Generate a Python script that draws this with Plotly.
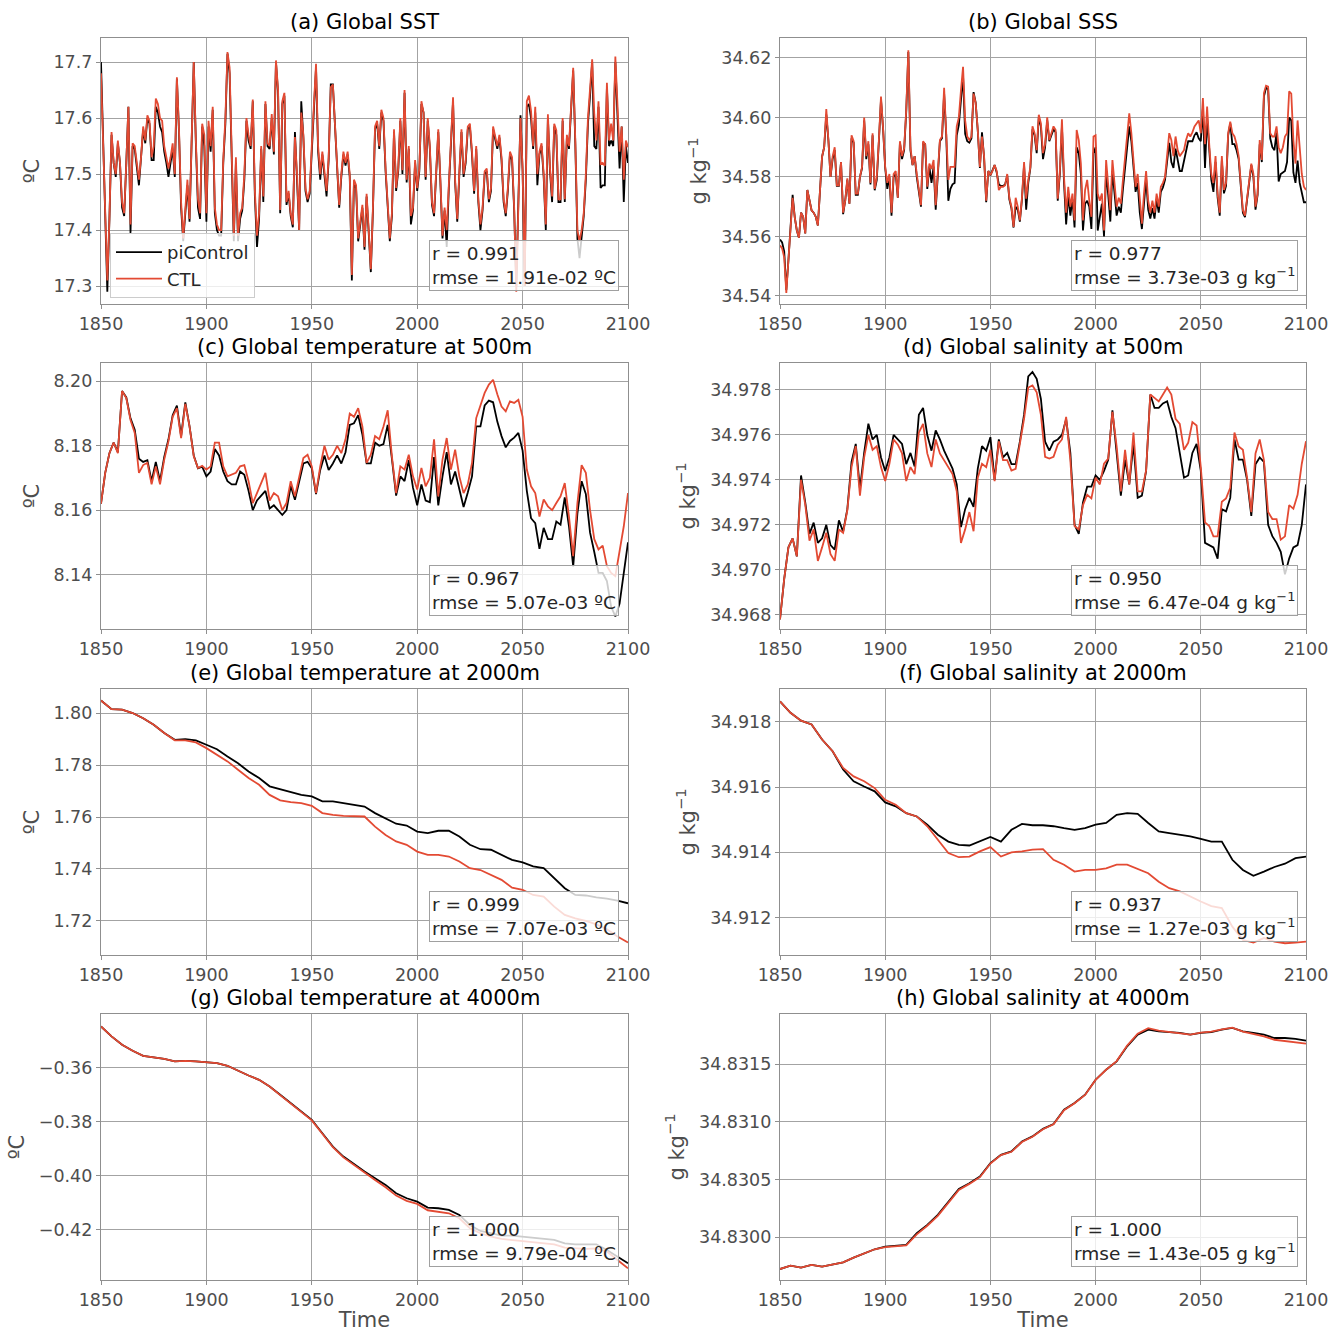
import plotly.graph_objects as go

# ---------------- data ----------------
years_annual = list(range(1850, 2101))
years_2yr = list(range(1850, 2101, 2))
years_5yr = list(range(1850, 2101, 5))

# (a) Global SST (degC)
sst_ctl = [
    17.68, 17.56, 17.45, 17.31, 17.42, 17.575, 17.52, 17.50, 17.56, 17.52,
    17.45, 17.43, 17.52, 17.62, 17.41, 17.555, 17.55, 17.52, 17.49, 17.53,
    17.585, 17.56, 17.605, 17.595, 17.53, 17.55, 17.635, 17.625, 17.60, 17.595,
    17.55, 17.53, 17.51, 17.53, 17.555, 17.50, 17.673, 17.58, 17.45, 17.385,
    17.44, 17.49, 17.42, 17.55, 17.70, 17.56, 17.455, 17.43, 17.59, 17.57,
    17.43, 17.595, 17.55, 17.62, 17.44, 17.41, 17.40, 17.40, 17.525, 17.60,
    17.718, 17.69, 17.55, 17.39, 17.53, 17.39, 17.43, 17.44, 17.50, 17.60,
    17.57, 17.55, 17.633, 17.47, 17.39, 17.43, 17.55, 17.46, 17.63, 17.555,
    17.55, 17.607, 17.54, 17.703, 17.65, 17.436, 17.63, 17.645, 17.45, 17.47,
    17.43, 17.41, 17.566, 17.50, 17.40, 17.61, 17.57, 17.475, 17.455, 17.47,
    17.55, 17.62, 17.697, 17.55, 17.50, 17.54, 17.51, 17.47, 17.53, 17.655,
    17.66, 17.585, 17.52, 17.445, 17.50, 17.54, 17.52, 17.54, 17.50, 17.32,
    17.49, 17.48, 17.385, 17.42, 17.445, 17.37, 17.465, 17.40, 17.33, 17.44,
    17.585, 17.595, 17.55, 17.615, 17.60, 17.51, 17.455, 17.385, 17.43, 17.58,
    17.475, 17.51, 17.60, 17.507, 17.65, 17.49, 17.55, 17.425, 17.44, 17.525,
    17.475, 17.51, 17.63, 17.61, 17.495, 17.60, 17.55, 17.45, 17.43, 17.52,
    17.58, 17.49, 17.39, 17.44, 17.40, 17.48, 17.56, 17.637, 17.49, 17.42,
    17.505, 17.58, 17.50, 17.525, 17.585, 17.59, 17.54, 17.47, 17.55, 17.455,
    17.41, 17.44, 17.505, 17.51, 17.455, 17.475, 17.585, 17.565, 17.55, 17.57,
    17.53, 17.455, 17.43, 17.475, 17.54, 17.53, 17.44, 17.29, 17.45, 17.60,
    17.51, 17.30, 17.63, 17.64, 17.613, 17.55, 17.62, 17.50, 17.54, 17.555,
    17.50, 17.41, 17.607, 17.51, 17.46, 17.59, 17.578, 17.455, 17.455, 17.60,
    17.455, 17.57, 17.55, 17.625, 17.69, 17.56, 17.40, 17.38, 17.40, 17.43,
    17.50, 17.60, 17.65, 17.705, 17.607, 17.56, 17.63, 17.518, 17.52, 17.515,
    17.663, 17.56, 17.59, 17.56, 17.71, 17.607, 17.54, 17.585, 17.49, 17.56,
    17.548,
]
sst_pic = [
    17.70, 17.56, 17.45, 17.29, 17.42, 17.57, 17.52, 17.495, 17.555, 17.52,
    17.44, 17.425, 17.52, 17.62, 17.395, 17.55, 17.545, 17.515, 17.48, 17.53,
    17.58, 17.555, 17.60, 17.59, 17.525, 17.525, 17.62, 17.61, 17.585, 17.575,
    17.54, 17.52, 17.495, 17.52, 17.545, 17.495, 17.67, 17.575, 17.44, 17.38,
    17.43, 17.48, 17.415, 17.545, 17.70, 17.555, 17.44, 17.42, 17.585, 17.55,
    17.415, 17.585, 17.54, 17.615, 17.43, 17.40, 17.39, 17.39, 17.52, 17.59,
    17.715, 17.68, 17.54, 17.38, 17.52, 17.38, 17.42, 17.435, 17.49, 17.595,
    17.56, 17.545, 17.63, 17.46, 17.37, 17.42, 17.545, 17.45, 17.625, 17.55,
    17.545, 17.60, 17.535, 17.70, 17.645, 17.43, 17.625, 17.64, 17.445, 17.465,
    17.425, 17.405, 17.575, 17.49, 17.40, 17.63, 17.565, 17.47, 17.45, 17.465,
    17.545, 17.615, 17.69, 17.54, 17.49, 17.535, 17.50, 17.46, 17.525, 17.66,
    17.66, 17.58, 17.515, 17.44, 17.495, 17.535, 17.515, 17.535, 17.495, 17.31,
    17.485, 17.475, 17.38, 17.415, 17.44, 17.365, 17.46, 17.395, 17.325, 17.435,
    17.58, 17.59, 17.545, 17.61, 17.595, 17.505, 17.45, 17.38, 17.425, 17.575,
    17.47, 17.505, 17.595, 17.50, 17.645, 17.485, 17.545, 17.41, 17.435, 17.52,
    17.47, 17.505, 17.625, 17.61, 17.49, 17.595, 17.545, 17.445, 17.425, 17.515,
    17.575, 17.485, 17.385, 17.435, 17.37, 17.475, 17.555, 17.63, 17.485, 17.415,
    17.50, 17.575, 17.495, 17.52, 17.58, 17.585, 17.535, 17.465, 17.545, 17.45,
    17.40, 17.435, 17.50, 17.505, 17.45, 17.47, 17.58, 17.56, 17.545, 17.565,
    17.525, 17.45, 17.425, 17.47, 17.535, 17.525, 17.435, 17.30, 17.445, 17.605,
    17.505, 17.30, 17.62, 17.625, 17.60, 17.545, 17.61, 17.48, 17.535, 17.55,
    17.495, 17.40, 17.60, 17.505, 17.45, 17.585, 17.57, 17.45, 17.45, 17.595,
    17.45, 17.565, 17.545, 17.62, 17.685, 17.555, 17.385, 17.35, 17.39, 17.425,
    17.49, 17.59, 17.64, 17.70, 17.55, 17.545, 17.62, 17.475, 17.48, 17.48,
    17.655, 17.55, 17.56, 17.55, 17.70, 17.60, 17.51, 17.585, 17.45, 17.55,
    17.52,
]

# (b) Global SSS (g/kg)
sss_ctl = [
    34.557, 34.556, 34.553, 34.541, 34.552, 34.562, 34.573, 34.5665, 34.562, 34.5596,
    34.568, 34.5666, 34.561, 34.5756, 34.572, 34.5688, 34.568, 34.5666, 34.5637, 34.5767,
    34.5868, 34.590, 34.6028, 34.5924, 34.580, 34.5868, 34.590, 34.5772, 34.5772, 34.585,
    34.568, 34.572, 34.5795, 34.571, 34.594, 34.592, 34.5744, 34.5744, 34.580, 34.5834,
    34.600, 34.587, 34.592, 34.578, 34.5947, 34.576, 34.580, 34.5924, 34.607, 34.5964,
    34.5834, 34.578, 34.581, 34.568, 34.581, 34.582, 34.573, 34.592, 34.587, 34.5896,
    34.6026, 34.6226, 34.590, 34.584, 34.587, 34.581, 34.5756, 34.5705, 34.592, 34.591,
    34.5767, 34.5845, 34.5827, 34.5857, 34.5705, 34.5834, 34.5924, 34.5936, 34.610, 34.5947,
    34.579, 34.5834, 34.5834, 34.5834, 34.597, 34.600, 34.609, 34.617, 34.599, 34.5936,
    34.5924, 34.5936, 34.608, 34.6048, 34.5958, 34.5834, 34.5936, 34.587, 34.572, 34.582,
    34.5806, 34.582, 34.584, 34.582, 34.5756, 34.5767, 34.5767, 34.5772, 34.581, 34.573,
    34.570, 34.5632, 34.573, 34.570, 34.5654, 34.573, 34.585, 34.5727, 34.579, 34.5834,
    34.597, 34.5947, 34.589, 34.6009, 34.598, 34.588, 34.591, 34.600, 34.5924, 34.5947,
    34.597, 34.5958, 34.5727, 34.582, 34.5994, 34.580, 34.568, 34.5767, 34.570, 34.5744,
    34.5654, 34.5958, 34.5924, 34.5845, 34.5654, 34.5756, 34.579, 34.572, 34.5666, 34.5936,
    34.594, 34.5744, 34.572, 34.5744, 34.562, 34.5857, 34.5767, 34.5688, 34.5857, 34.5767,
    34.570, 34.573, 34.571, 34.579, 34.5857, 34.5947, 34.6014, 34.5947, 34.5857, 34.5767,
    34.581, 34.571, 34.5643, 34.5744, 34.582, 34.572, 34.568, 34.572, 34.568, 34.5744,
    34.570, 34.5767, 34.578, 34.580, 34.587, 34.5947, 34.5924, 34.587, 34.5936, 34.589,
    34.587, 34.588, 34.589, 34.5924, 34.5947, 34.5936, 34.595, 34.597, 34.598, 34.599,
    34.5947, 34.6065, 34.591, 34.6037, 34.591, 34.581, 34.578, 34.587, 34.5744, 34.568,
    34.587, 34.5756, 34.578, 34.5947, 34.5986, 34.5947, 34.5936, 34.591, 34.587, 34.5767,
    34.5688, 34.567, 34.573, 34.579, 34.5845, 34.581, 34.570, 34.5744, 34.5924, 34.5857,
    34.6082, 34.6107, 34.6104, 34.5947, 34.5936, 34.5936, 34.597, 34.590, 34.588, 34.590,
    34.5936, 34.5947, 34.6088, 34.608, 34.5924, 34.5845, 34.599, 34.590, 34.581, 34.5767,
    34.5756,
]
sss_pic = [
    34.559, 34.558, 34.555, 34.542, 34.552, 34.563, 34.574, 34.5665, 34.562, 34.5596,
    34.568, 34.5666, 34.561, 34.5756, 34.572, 34.5688, 34.568, 34.5666, 34.5637, 34.5767,
    34.5868, 34.590, 34.601, 34.5924, 34.580, 34.586, 34.589, 34.577, 34.577, 34.585,
    34.5675, 34.572, 34.579, 34.571, 34.593, 34.5915, 34.574, 34.574, 34.580, 34.583,
    34.599, 34.586, 34.591, 34.5775, 34.594, 34.5755, 34.579, 34.592, 34.606, 34.596,
    34.583, 34.576, 34.580, 34.567, 34.580, 34.581, 34.573, 34.5915, 34.586, 34.589,
    34.602, 34.622, 34.589, 34.584, 34.587, 34.580, 34.575, 34.570, 34.5915, 34.591,
    34.576, 34.5835, 34.578, 34.5835, 34.569, 34.583, 34.592, 34.593, 34.608, 34.594,
    34.572, 34.576, 34.5775, 34.578, 34.594, 34.5975, 34.606, 34.614, 34.5945, 34.592,
    34.5915, 34.593, 34.6085, 34.605, 34.5955, 34.583, 34.595, 34.5865, 34.5715, 34.582,
    34.5805, 34.582, 34.584, 34.5815, 34.5775, 34.577, 34.577, 34.5775, 34.5805, 34.5725,
    34.5695, 34.563, 34.570, 34.569, 34.565, 34.5725, 34.584, 34.569, 34.578, 34.583,
    34.596, 34.594, 34.588, 34.600, 34.597, 34.586, 34.590, 34.599, 34.592, 34.594,
    34.596, 34.595, 34.572, 34.581, 34.597, 34.578, 34.564, 34.574, 34.567, 34.5725,
    34.563, 34.590, 34.588, 34.581, 34.562, 34.571, 34.572, 34.570, 34.5625, 34.588,
    34.590, 34.562, 34.567, 34.571, 34.560, 34.582, 34.574, 34.565, 34.582, 34.573,
    34.567, 34.570, 34.568, 34.576, 34.583, 34.592, 34.597, 34.592, 34.583, 34.575,
    34.578, 34.568, 34.5625, 34.571, 34.5795, 34.569, 34.566, 34.5695, 34.566, 34.5725,
    34.568, 34.575, 34.5765, 34.579, 34.585, 34.5915, 34.585, 34.583, 34.5895, 34.585,
    34.582, 34.582, 34.585, 34.589, 34.592, 34.592, 34.592, 34.594, 34.595, 34.593,
    34.592, 34.603, 34.583, 34.600, 34.589, 34.579, 34.575, 34.585, 34.573, 34.567,
    34.5855, 34.5745, 34.577, 34.594, 34.598, 34.591, 34.591, 34.589, 34.586, 34.576,
    34.568, 34.5665, 34.5725, 34.578, 34.584, 34.580, 34.569, 34.574, 34.591, 34.585,
    34.607, 34.610, 34.6095, 34.593, 34.590, 34.589, 34.595, 34.5785, 34.581, 34.5815,
    34.582, 34.585, 34.600, 34.599, 34.5815, 34.578, 34.5855, 34.578, 34.575, 34.5715,
    34.5715,
]

# (c) Global temperature at 500m (degC), every 2 years
t500_ctl = [
    8.162, 8.1716, 8.1777, 8.181, 8.1777, 8.197, 8.1948, 8.188, 8.184, 8.1716,
    8.174, 8.1747, 8.168, 8.1736, 8.168, 8.1757, 8.1814, 8.189, 8.1917, 8.1824,
    8.193, 8.186, 8.1767, 8.1731, 8.1738, 8.1726, 8.1736, 8.181, 8.181, 8.1736,
    8.1705, 8.171, 8.1716, 8.1736, 8.174, 8.169, 8.1622, 8.1653, 8.1684, 8.1716,
    8.163, 8.1653, 8.1643, 8.160, 8.1622, 8.169, 8.1643, 8.1705, 8.1762, 8.1772,
    8.1736, 8.1653, 8.1736, 8.180, 8.1757, 8.1772, 8.180, 8.1777, 8.182, 8.190,
    8.189, 8.1917, 8.186, 8.1747, 8.1772, 8.183, 8.182, 8.186, 8.191, 8.1767,
    8.1653, 8.1736, 8.1726, 8.1772, 8.1705, 8.1664, 8.1731, 8.1674, 8.170, 8.182,
    8.1643, 8.1757, 8.1824, 8.1726, 8.1788, 8.1705, 8.1653, 8.168, 8.1747, 8.1886,
    8.1922, 8.1964, 8.199, 8.2005, 8.196, 8.1922, 8.1907, 8.1938, 8.1933, 8.1943,
    8.189, 8.1726, 8.1674, 8.1653, 8.158, 8.1633, 8.1612, 8.160, 8.1622, 8.1643,
    8.1684, 8.158, 8.1457, 8.1622, 8.174, 8.1716, 8.160, 8.151, 8.1478, 8.149,
    8.1426, 8.1405, 8.1395, 8.1478, 8.155, 8.1653,
]
t500_pic = [
    8.162, 8.1716, 8.1777, 8.181, 8.178, 8.197, 8.195, 8.1885, 8.185, 8.176,
    8.175, 8.1755, 8.169, 8.175, 8.169, 8.1765, 8.182, 8.1895, 8.1925, 8.183,
    8.1935, 8.186, 8.177, 8.173, 8.1735, 8.1705, 8.172, 8.179, 8.177, 8.172,
    8.169, 8.168, 8.168, 8.172, 8.171, 8.166, 8.160, 8.163, 8.1645, 8.166,
    8.1605, 8.1615, 8.160, 8.1585, 8.160, 8.1675, 8.1632, 8.169, 8.1745, 8.175,
    8.173, 8.165, 8.1725, 8.177, 8.1725, 8.1745, 8.177, 8.1745, 8.178, 8.1865,
    8.187, 8.1895, 8.1835, 8.1745, 8.1745, 8.181, 8.180, 8.1805, 8.1865, 8.176,
    8.1645, 8.1705, 8.169, 8.1755, 8.167, 8.1615, 8.168, 8.163, 8.1625, 8.1765,
    8.1615, 8.1705, 8.178, 8.168, 8.172, 8.1665, 8.161, 8.1655, 8.1705, 8.186,
    8.186, 8.1925, 8.194, 8.1935, 8.1875, 8.183, 8.1795, 8.1815, 8.1825, 8.184,
    8.1785, 8.166, 8.1575, 8.156, 8.148, 8.1545, 8.151, 8.151, 8.1565, 8.1555,
    8.164, 8.155, 8.1425, 8.159, 8.169, 8.165, 8.153, 8.147, 8.1405, 8.1405,
    8.138, 8.130, 8.127, 8.131, 8.140, 8.150,
]

# (d) Global salinity at 500m (g/kg), every 2 years
s500_ctl = [
    34.9678, 34.9696, 34.9710, 34.9714, 34.9706, 34.9740, 34.9729, 34.9713, 34.9718, 34.9704,
    34.9710, 34.97165, 34.9707, 34.9704, 34.9718, 34.97165, 34.97265, 34.97457, 34.9755, 34.9733,
    34.9750, 34.9760, 34.97534, 34.9755, 34.97457, 34.97395, 34.97472, 34.9758, 34.97557, 34.97518,
    34.97395, 34.97457, 34.97426, 34.97611, 34.97649, 34.97518, 34.97457, 34.9758, 34.97518, 34.97488,
    34.97457, 34.97426, 34.97349, 34.9712, 34.9718, 34.97257, 34.97172, 34.9741, 34.97472, 34.97457,
    34.97534, 34.97395, 34.97572, 34.97488, 34.97488, 34.97442, 34.97449, 34.97565, 34.97672, 34.97811,
    34.9782, 34.9779, 34.9769, 34.97503, 34.97495, 34.97503, 34.97557, 34.9758, 34.9768, 34.97488,
    34.97195, 34.9718, 34.97288, 34.97334, 34.97318, 34.9741, 34.9738, 34.97472, 34.97495, 34.97703,
    34.97549, 34.97349, 34.97534, 34.9738, 34.97611, 34.97349, 34.97349, 34.97442, 34.9778, 34.97765,
    34.97749, 34.9778, 34.97811, 34.9778, 34.97672, 34.97649, 34.97534, 34.97565, 34.97657, 34.97642,
    34.97457, 34.97211, 34.97195, 34.97149, 34.97149, 34.97303, 34.97318, 34.97365, 34.97611, 34.97549,
    34.97534, 34.9741, 34.97257, 34.97518, 34.9758, 34.97488, 34.97257, 34.97226, 34.97226, 34.97134,
    34.97149, 34.97288, 34.97272, 34.97334, 34.97472, 34.97572,
]
s500_pic = [
    34.9678, 34.9696, 34.9710, 34.9714, 34.9706, 34.9742, 34.9730, 34.9716, 34.9721, 34.9712,
    34.9714, 34.9720, 34.9711, 34.9709, 34.9722, 34.9717, 34.9727, 34.9748, 34.9756, 34.9736,
    34.9752, 34.9765, 34.9758, 34.9760, 34.9750, 34.9744, 34.9750, 34.9760, 34.9758, 34.9756,
    34.9747, 34.9752, 34.9746, 34.9769, 34.9772, 34.9760, 34.9753, 34.9762, 34.9758, 34.9753,
    34.9749, 34.9745, 34.9738, 34.9719, 34.9727, 34.9732, 34.9728, 34.9745, 34.9755, 34.9753,
    34.9759, 34.9740, 34.9758, 34.9750, 34.9752, 34.9747, 34.9747, 34.9757, 34.9769, 34.9786,
    34.9788, 34.9785, 34.9776, 34.9757, 34.9753, 34.9757, 34.9758, 34.9760, 34.9767, 34.9752,
    34.9720, 34.9716, 34.9730, 34.9737, 34.9737, 34.9742, 34.9740, 34.9744, 34.9749, 34.9771,
    34.9752, 34.9733, 34.9749, 34.9738, 34.9756, 34.9732, 34.9733, 34.9744, 34.9778, 34.9772,
    34.9772, 34.9774, 34.9775, 34.9768, 34.9763, 34.9752, 34.9741, 34.9742, 34.9752, 34.9756,
    34.9744, 34.9712, 34.9711, 34.9710, 34.9705, 34.9727, 34.9726, 34.9732, 34.9758, 34.9749,
    34.9749, 34.9740, 34.9724, 34.9747, 34.9750, 34.9748, 34.9720, 34.9715, 34.9712, 34.9708,
    34.9698, 34.9705, 34.9710, 34.9711, 34.9720, 34.9738,
]

# (e) Global temperature at 2000m (degC), every 5 years
t2000_pic = [
    1.8048, 1.8015, 1.8013, 1.800, 1.798, 1.7955, 1.7923, 1.7897, 1.7900, 1.7895,
    1.7878, 1.7861, 1.7833, 1.7807, 1.7775, 1.775, 1.7718, 1.7707, 1.7694, 1.7685,
    1.7679, 1.766, 1.766, 1.7653, 1.7647, 1.764, 1.7615, 1.7596, 1.7574, 1.7567,
    1.7544, 1.7538, 1.7547, 1.7547, 1.7525, 1.7493, 1.7476, 1.7474, 1.7454, 1.7435,
    1.7425, 1.741, 1.7403, 1.7364, 1.7326, 1.730, 1.7298, 1.7291, 1.7286, 1.7278, 1.7268,
]
t2000_ctl = [
    1.8048, 1.8015, 1.8013, 1.800, 1.798, 1.7955, 1.7923, 1.7895, 1.7895, 1.7887,
    1.7865, 1.784, 1.7814, 1.7782, 1.775, 1.7724, 1.7685, 1.7664, 1.7657, 1.7653,
    1.7643, 1.7615, 1.7608, 1.7604, 1.7604, 1.7602, 1.7563, 1.7531, 1.7506, 1.7493,
    1.7467, 1.7454, 1.7454, 1.7448, 1.7429, 1.7403, 1.7396, 1.7377, 1.7358, 1.7328,
    1.732, 1.730, 1.7294, 1.7255, 1.7223, 1.721, 1.720, 1.7187, 1.7168, 1.714, 1.7117,
]

# (f) Global salinity at 2000m (g/kg), every 5 years
s2000_pic = [
    34.91863, 34.91828, 34.91804, 34.91792, 34.91746, 34.9171, 34.91654, 34.91618, 34.91602, 34.91587,
    34.91553, 34.91541, 34.9152, 34.9151, 34.91485, 34.91454, 34.91433, 34.91423, 34.91421, 34.91433,
    34.91447, 34.91433, 34.91469, 34.91487, 34.91483, 34.91483, 34.9148, 34.91474, 34.91469, 34.91474,
    34.91485, 34.9149, 34.91515, 34.9152, 34.91518, 34.9149, 34.91464, 34.91459, 34.91454, 34.91449,
    34.91441, 34.91433, 34.91433, 34.91377, 34.91346, 34.91328, 34.91341, 34.91355, 34.91365, 34.91382, 34.91387,
]
s2000_ctl = [
    34.91863, 34.91828, 34.91804, 34.91792, 34.91746, 34.9171, 34.91659, 34.91633, 34.91618, 34.91597,
    34.91561, 34.91546, 34.9152, 34.9151, 34.9148, 34.91439, 34.91398, 34.91385, 34.91387, 34.91403,
    34.91416, 34.91387, 34.914, 34.91403, 34.91408, 34.9141, 34.91377, 34.91362, 34.91341, 34.91346,
    34.91346, 34.91351, 34.91362, 34.91362, 34.91348, 34.91336, 34.9131, 34.9129, 34.9128, 34.91264,
    34.91249, 34.91235, 34.91229, 34.91172, 34.91131, 34.91123, 34.91137, 34.91126, 34.91121, 34.91123, 34.91126,
]

# (g) Global temperature at 4000m (degC), every 5 years
t4000_pic = [
    -0.34485, -0.34854, -0.35162, -0.35384, -0.35569, -0.3563, -0.3568, -0.35778, -0.35754, -0.35778,
    -0.35815, -0.3584, -0.35938, -0.36123, -0.36296, -0.36456, -0.36702, -0.3701, -0.37318, -0.37626,
    -0.37934, -0.38427, -0.3892, -0.3929, -0.39573, -0.39844, -0.4009, -0.40337, -0.40645, -0.4083,
    -0.40953, -0.41174, -0.41199, -0.41261, -0.41445, -0.41815, -0.42037, -0.42123, -0.42209, -0.42209,
    -0.42246, -0.42283, -0.42332, -0.42369, -0.42492, -0.42529, -0.42529, -0.42529, -0.42739, -0.42985, -0.43232,
]
t4000_ctl = [
    -0.34485, -0.34854, -0.35162, -0.35384, -0.35569, -0.3563, -0.3568, -0.35778, -0.35754, -0.35778,
    -0.35815, -0.3584, -0.35938, -0.36123, -0.36296, -0.36456, -0.36702, -0.3702, -0.3733, -0.3764,
    -0.37955, -0.3845, -0.38945, -0.3932, -0.39605, -0.39880, -0.40152, -0.40423, -0.40731, -0.40928,
    -0.41039, -0.41273, -0.41322, -0.41384, -0.41569, -0.41938, -0.42123, -0.42246, -0.42332, -0.42369,
    -0.42431, -0.42455, -0.42492, -0.42529, -0.42653, -0.42677, -0.42702, -0.42677, -0.42801, -0.43109, -0.43417,
]

# (h) Global salinity at 4000m (g/kg), every 5 years
s4000_pic = [
    34.829725, 34.829754, 34.829737, 34.82976, 34.829746, 34.829766, 34.829783, 34.829824, 34.829861, 34.829896,
    34.829919, 34.829928, 34.829934, 34.830035, 34.830107, 34.830194, 34.830309, 34.830419, 34.830468, 34.830526,
    34.830642, 34.830714, 34.830743, 34.830829, 34.830873, 34.830939, 34.83098, 34.831104, 34.831162, 34.831234,
    34.831364, 34.831451, 34.831523, 34.831653, 34.831754, 34.831798, 34.831783, 34.831775, 34.831769, 34.831754,
    34.831769, 34.831777, 34.831798, 34.831812, 34.831783, 34.831769, 34.831754, 34.831725, 34.831725, 34.831717, 34.831702,
]
s4000_ctl = [
    34.829725, 34.829754, 34.829737, 34.82976, 34.829746, 34.829766, 34.829783, 34.829824, 34.829861, 34.829896,
    34.829915, 34.829925, 34.829930, 34.830025, 34.830100, 34.830185, 34.830300, 34.830410, 34.830462, 34.830520,
    34.830638, 34.830712, 34.830740, 34.830825, 34.830870, 34.830936, 34.830978, 34.831100, 34.831160, 34.831232,
    34.831362, 34.831450, 34.831525, 34.831660, 34.831762, 34.831810, 34.831790, 34.831778, 34.831770, 34.831755,
    34.831772, 34.831780, 34.831800, 34.831815, 34.831780, 34.831760, 34.831740, 34.831710, 34.831697, 34.831688, 34.831676,
]

titles = [
    "(a) Global SST", "(b) Global SSS",
    "(c) Global temperature at 500m", "(d) Global salinity at 500m",
    "(e) Global temperature at 2000m", "(f) Global salinity at 2000m",
    "(g) Global temperature at 4000m", "(h) Global salinity at 4000m",
]
r_values = ["0.991", "0.977", "0.967", "0.950", "0.999", "0.937", "1.000", "1.000"]
rmse_values = ["1.91e-02", "3.73e-03", "5.07e-03", "6.47e-04", "7.07e-03", "1.27e-03", "9.79e-04", "1.43e-05"]
units = ["ºC", "g kg<sup>−1</sup>"] * 4
x_ticks = [1850, 1900, 1950, 2000, 2050, 2100]

panels = [
    (years_annual, sst_pic, sst_ctl, [17.268, 17.743], 17.3, 0.1, ".1f"),
    (years_annual, sss_pic, sss_ctl, [34.5373, 34.6267], 34.54, 0.02, ".2f"),
    (years_2yr, t500_pic, t500_ctl, [8.1231, 8.2057], 8.14, 0.02, ".2f"),
    (years_2yr, s500_pic, s500_ctl, [34.96737, 34.9792], 34.968, 0.002, ".3f"),
    (years_5yr, t2000_pic, t2000_ctl, [1.7069, 1.80925], 1.72, 0.02, ".2f"),
    (years_5yr, s2000_pic, s2000_ctl, [34.91085, 34.91901], 34.912, 0.002, ".3f"),
    (years_5yr, t4000_pic, t4000_ctl, [-0.43848, -0.34026], -0.42, 0.02, ".2f"),
    (years_5yr, s4000_pic, s4000_ctl, [34.82963, 34.831933], 34.83, 0.0005, ".4f"),
]

for yrs, a, b, *_ in panels:
    if len(a) != len(yrs) or len(b) != len(yrs):
        raise ValueError(f"length mismatch {len(yrs)} {len(a)} {len(b)}")

# ---------------- layout geometry ----------------
W, H = 1331, 1332
col_px = [(101, 628), (780, 1306)]
row_px = [(38, 304), (363, 629), (689, 955), (1014, 1280)]

FONT = "DejaVu Sans"
TICK_COLOR = "#4d4d4d"
LINE_COLOR = "#8f8f8f"
GRID_COLOR = "#a3a3a3"
RED = "#e34a33"
TICK_SIZE = 17.5
LABEL_SIZE = 21
TEXT_SIZE = 18.5

fig = go.Figure()
layout = dict(
    width=W, height=H,
    margin=dict(l=0, r=0, t=0, b=0),
    paper_bgcolor="white", plot_bgcolor="white",
    font=dict(family=FONT, size=TEXT_SIZE, color=TICK_COLOR),
    showlegend=True,
    legend=dict(
        x=110 / W, y=1 - 298 / H, xanchor="left", yanchor="bottom",
        bgcolor="rgba(255,255,255,0.8)", bordercolor="#cccccc", borderwidth=1,
        font=dict(family=FONT, size=18, color="#262626"),
        tracegroupgap=0, itemwidth=46,
    ),
)
annotations = []

for i, (yrs, pic, ctl, yr, t0, dt, fmt) in enumerate(panels):
    row, col = divmod(i, 2)
    n = i + 1
    xs = "" if n == 1 else str(n)
    x0, x1 = col_px[col]
    y0, y1 = row_px[row]
    xdom = [x0 / W, x1 / W]
    ydom = [1 - y1 / H, 1 - y0 / H]
    axis_common = dict(
        showline=True, mirror=True, linecolor=LINE_COLOR, linewidth=1.2,
        showgrid=True, gridcolor=GRID_COLOR, gridwidth=1,
        ticks="outside", ticklen=4, tickcolor=LINE_COLOR, tickwidth=1,
        zeroline=False, automargin=False,
        tickfont=dict(family=FONT, size=TICK_SIZE, color=TICK_COLOR),
    )
    layout["xaxis" + xs] = dict(
        domain=xdom, anchor="y" + xs, range=[1850, 2100],
        tickvals=x_ticks, ticktext=[str(v) for v in x_ticks],
        title=dict(text="Time" if row == 3 else "",
                   font=dict(family=FONT, size=LABEL_SIZE, color=TICK_COLOR), standoff=4),
        **axis_common,
    )
    layout["yaxis" + xs] = dict(
        domain=ydom, anchor="x" + xs, range=yr,
        tickmode="linear", tick0=t0, dtick=dt, tickformat=fmt,
        title=dict(text=units[i], font=dict(family=FONT, size=LABEL_SIZE, color=TICK_COLOR), standoff=8),
        **axis_common,
    )
    fig.add_trace(go.Scatter(
        x=yrs, y=pic, mode="lines", name="piControl",
        line=dict(color="black", width=1.8),
        xaxis="x" + xs, yaxis="y" + xs, showlegend=(i == 0),
    ))
    fig.add_trace(go.Scatter(
        x=yrs, y=ctl, mode="lines", name="CTL",
        line=dict(color=RED, width=1.8),
        xaxis="x" + xs, yaxis="y" + xs, showlegend=(i == 0),
    ))
    # panel title
    annotations.append(dict(
        text=titles[i], xref="x" + xs + " domain", yref="y" + xs + " domain",
        x=0.5, y=1, xanchor="center", yanchor="bottom", yshift=2, showarrow=False,
        font=dict(family=FONT, size=LABEL_SIZE, color="black"),
    ))
    # statistics box
    right = 0.982 if col == 0 else 0.985
    annotations.append(dict(
        text=f"r = {r_values[i]}<br>rmse = {rmse_values[i]} {units[i]}",
        xref="x" + xs + " domain", yref="y" + xs + " domain",
        x=right, y=0.05, xanchor="right", yanchor="bottom", showarrow=False,
        align="left", bgcolor="rgba(255,255,255,0.8)", bordercolor="#a0a0a0",
        borderwidth=1, borderpad=2,
        font=dict(family=FONT, size=TEXT_SIZE, color="#262626"),
    ))

layout["annotations"] = annotations
fig.update_layout(**layout)
fig.write_html("out.html")
